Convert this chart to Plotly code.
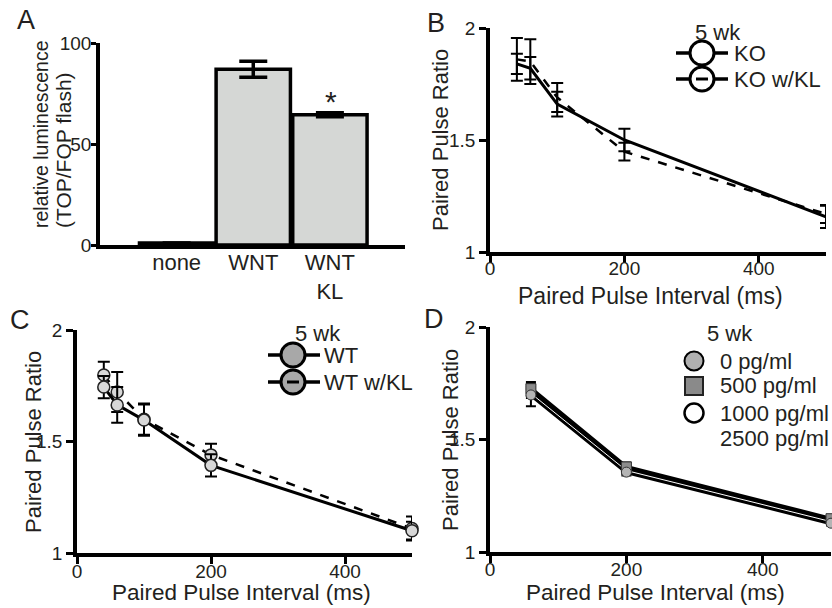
import plotly.graph_objects as go

W, H = 832, 608
FONT = "Liberation Sans, Arial, sans-serif"
TXT = "#231f20"

def px(x):
    return x / W

def py(y):
    return 1 - y / H

# ---------------- data ----------------
# Panel A
a_categories = ["none", "WNT", "WNT<br>KL"]
a_values = [1.0, 87.0, 64.5]
a_errors = [0.0, 4.0, 1.0]
a_yticks = [0, 50, 100]

# Panel B
b_interval = [40, 60, 100, 200, 500]
b_ko = [1.84, 1.82, 1.66, 1.50, 1.157]
b_ko_err = [0.045, 0.05, 0.055, 0.05, 0.05]
b_kokl = [1.86, 1.85, 1.69, 1.448, 1.17]
b_kokl_err = [0.095, 0.10, 0.065, 0.04, 0.04]

# Panel C
c_interval = [40, 60, 100, 200, 500]
c_wt = [1.744, 1.664, 1.596, 1.393, 1.100]
c_wt_err = [0.05, 0.08, 0.07, 0.05, 0.04]
c_wtkl = [1.798, 1.722, 1.600, 1.440, 1.110]
c_wtkl_err = [0.06, 0.09, 0.07, 0.05, 0.054]

# Panel D
d_interval = [60, 200, 500]
d_0 = [1.698, 1.355, 1.128]
d_0_err = [0.05, 0.015, 0.01]
d_500 = [1.726, 1.378, 1.148]
d_500_err = [0.03, 0.02, 0.01]
d_1000 = [1.705, 1.362, 1.135]
d_1000_err = [0.02, 0.015, 0.01]
d_2500 = [1.715, 1.370, 1.142]
d_2500_err = [0.02, 0.015, 0.01]

ppr_ticks = [1, 1.5, 2]
ppr_ticktext = ["1", "1.5", "2"]
ppi_ticks = [0, 200, 400]

# ---------------- figure ----------------
fig = go.Figure()

# A: bars
fig.add_trace(go.Bar(
    x=a_categories, y=a_values,
    error_y=dict(type="data", array=a_errors, color="black", thickness=3.5, width=14),
    marker=dict(color="#d5d7d5", line=dict(color="black", width=3.5)),
    width=0.97, xaxis="x", yaxis="y", showlegend=False, cliponaxis=False,
))

def err(arr, w=6, t=2):
    return dict(type="data", array=arr, color="black", thickness=t, width=w)

# B
fig.add_trace(go.Scatter(x=b_interval, y=b_kokl, mode="lines", error_y=err(b_kokl_err),
                         line=dict(color="black", width=2.5, dash="dash"),
                         xaxis="x2", yaxis="y2", showlegend=False, cliponaxis=False))
fig.add_trace(go.Scatter(x=b_interval, y=b_ko, mode="lines", error_y=err(b_ko_err),
                         line=dict(color="black", width=3),
                         xaxis="x2", yaxis="y2", showlegend=False, cliponaxis=False))

# C
cmark = dict(size=12, color="#d8d8d8", line=dict(color="#222", width=1.5))
fig.add_trace(go.Scatter(x=c_interval, y=c_wtkl, mode="lines+markers", error_y=err(c_wtkl_err),
                         line=dict(color="black", width=2.5, dash="dash"), marker=cmark,
                         xaxis="x3", yaxis="y3", showlegend=False, cliponaxis=False))
fig.add_trace(go.Scatter(x=c_interval, y=c_wt, mode="lines+markers", error_y=err(c_wt_err),
                         line=dict(color="black", width=3), marker=cmark,
                         xaxis="x3", yaxis="y3", showlegend=False, cliponaxis=False))

# D
for yv, ev in [(d_500, d_500_err), (d_2500, d_2500_err), (d_0, d_0_err), (d_1000, d_1000_err)]:
    fig.add_trace(go.Scatter(x=d_interval, y=yv, mode="lines", error_y=err(ev, w=5),
                             line=dict(color="black", width=4),
                             xaxis="x4", yaxis="y4", showlegend=False, cliponaxis=False))
fig.add_trace(go.Scatter(x=d_interval, y=d_1000, mode="lines",
                         line=dict(color="white", width=1),
                         xaxis="x4", yaxis="y4", showlegend=False, cliponaxis=False))
fig.add_trace(go.Scatter(x=d_interval, y=d_500, mode="markers",
                         marker=dict(symbol="square", size=10, color="#8c8c8c", line=dict(color="#333", width=1)),
                         xaxis="x4", yaxis="y4", showlegend=False, cliponaxis=False))
fig.add_trace(go.Scatter(x=d_interval, y=d_0, mode="markers",
                         marker=dict(symbol="circle", size=10, color="#b4b4b4", line=dict(color="#333", width=1)),
                         xaxis="x4", yaxis="y4", showlegend=False, cliponaxis=False))

# ---------------- axes ----------------
def axis(**kw):
    base = dict(showline=True, linecolor="black", linewidth=3.5, ticks="outside",
                tickcolor="black", tickwidth=3, ticklen=7, showgrid=False, zeroline=False,
                automargin=False,
                tickfont=dict(size=19, color=TXT, family=FONT), fixedrange=True)
    base.update(kw)
    return base

fig.update_layout(
    xaxis=axis(domain=[px(100), px(405)], anchor="y", type="category", range=[-1.0, 2.98],
               ticks="", tickfont=dict(size=22, color=TXT, family=FONT), ticklabelstandoff=-5),
    yaxis=axis(domain=[py(245), py(43)], anchor="x", range=[0, 100], tickvals=a_yticks, ticklen=5,
               ticklabelstandoff=-4),
    xaxis2=axis(domain=[px(490), px(826)], anchor="y2", range=[0, 500], tickvals=ppi_ticks,
                ticklabelstandoff=-11),
    yaxis2=axis(domain=[py(252), py(28)], anchor="x2", range=[1, 2], tickvals=ppr_ticks, ticktext=ppr_ticktext),
    xaxis3=axis(domain=[px(77), px(412)], anchor="y3", range=[0, 500], tickvals=ppi_ticks,
                ticklabelstandoff=-9),
    yaxis3=axis(domain=[py(553), py(330)], anchor="x3", range=[1, 2], tickvals=ppr_ticks, ticktext=ppr_ticktext),
    xaxis4=axis(domain=[px(490), px(831)], anchor="y4", range=[0, 500], tickvals=ppi_ticks,
                ticklabelstandoff=-10),
    yaxis4=axis(domain=[py(552), py(327)], anchor="x4", range=[1, 2], tickvals=ppr_ticks, ticktext=ppr_ticktext),
)

# ---------------- annotations & legends ----------------
ann = []
shapes = []

def text(x, y, s, size=21, xanchor="center", yanchor="middle", angle=0):
    ann.append(dict(x=px(x), y=py(y), xref="paper", yref="paper", text=s, showarrow=False,
                    xanchor=xanchor, yanchor=yanchor, textangle=angle,
                    font=dict(size=size, color=TXT, family=FONT)))

# panel letters
text(26, 20, "A", 27)
text(436, 23, "B", 27)
text(20, 320, "C", 27)
text(434, 319, "D", 27)

# asterisk
text(331, 101, "*", 30)

# axis titles
text(41, 230, "relative luminescence", 19.5, yanchor="bottom", angle=-90)
text(63, 230, "(TOP/FOP flash)", 21, yanchor="bottom", angle=-90)
text(440, 140, "Paired Pulse Ratio", 22, angle=-90)
text(33, 442, "Paired Pulse Ratio", 22, angle=-90)
text(450, 440, "Paired Pulse Ratio", 22, angle=-90)
text(650, 296, "Paired Pulse Interval (ms)", 23)
text(241, 592, "Paired Pulse Interval (ms)", 22.5)
text(655, 592, "Paired Pulse Interval (ms)", 22.5)

def hline(x0, x1, y, width=3.5, dash="solid"):
    shapes.append(dict(type="line", xref="paper", yref="paper", x0=px(x0), x1=px(x1),
                       y0=py(y), y1=py(y), line=dict(color="black", width=width, dash=dash)))

def circle(cx, cy, r, fill, lw=3):
    shapes.append(dict(type="circle", xref="paper", yref="paper", x0=px(cx - r), x1=px(cx + r),
                       y0=py(cy + r), y1=py(cy - r), fillcolor=fill, line=dict(color="black", width=lw)))

def square(cx, cy, r, fill, lw=2):
    shapes.append(dict(type="rect", xref="paper", yref="paper", x0=px(cx - r), x1=px(cx + r),
                       y0=py(cy + r), y1=py(cy - r), fillcolor=fill, line=dict(color="#222", width=lw)))

# B legend
text(718, 33, "5 wk", 22)
hline(676, 728, 53)
circle(702, 53, 12, "white")
text(732, 53, "KO", 22, xanchor="left")
hline(676, 689, 79)
hline(715, 728, 79)
circle(702, 79, 12, "white")
hline(696, 708, 79, width=3)
text(732, 79, "KO w/KL", 22, xanchor="left")

# C legend
text(318, 333, "5 wk", 22)
hline(268, 320, 355)
circle(293, 355, 12, "#a8a8a8")
text(322, 355, "WT", 22, xanchor="left")
hline(268, 280, 382)
hline(306, 320, 382)
circle(293, 382, 12, "#a8a8a8")
hline(287, 299, 382, width=3)
text(322, 382, "WT w/KL", 22, xanchor="left")

# D legend
text(730, 333, "5 wk", 22)
circle(694, 361, 9.5, "#b0b0b0", lw=2)
text(718, 361, "0 pg/ml", 22, xanchor="left")
square(694, 386, 9, "#8a8a8a")
text(718, 386, "500 pg/ml", 22, xanchor="left")
circle(694, 413, 9.5, "white", lw=2.5)
text(718, 413, "1000 pg/ml", 22, xanchor="left")
text(718, 438, "2500 pg/ml", 22, xanchor="left")

fig.update_layout(
    width=W, height=H, margin=dict(l=0, r=0, t=0, b=0, autoexpand=False),
    paper_bgcolor="white", plot_bgcolor="white",
    font=dict(family=FONT, color=TXT),
    annotations=ann, shapes=shapes, showlegend=False, bargap=0.02,
)

fig.write_html(
    "out.html",
    config={"responsive": False, "displayModeBar": False},
    post_script="document.body.style.margin='0';document.body.style.overflow='hidden';",
)
